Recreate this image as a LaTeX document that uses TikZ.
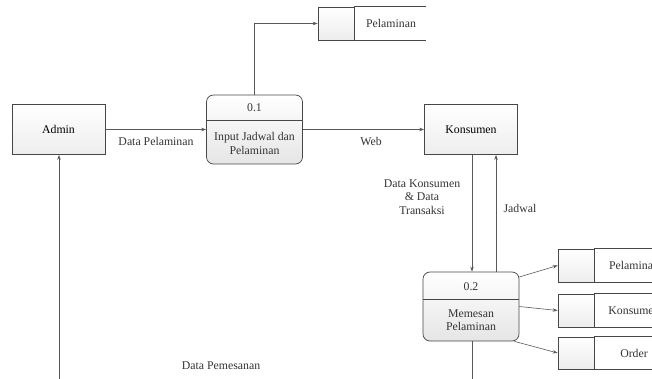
\documentclass[tikz,border=0pt]{standalone}
\usepackage{fontspec}
\setmainfont{Liberation Serif}
\usetikzlibrary{arrows.meta,calc}
\begin{document}
\begin{tikzpicture}[x=1pt,y=-1pt,
  font=\fontsize{11.8}{13.5}\selectfont,
  boxdraw/.style={draw=black!72,line width=0.7pt},
  entity/.style={boxdraw,rectangle,top color=white,bottom color=black!7,minimum width=93pt,minimum height=50pt,inner sep=0pt},
  proc/.style={boxdraw,rectangle,rounded corners=7pt,top color=white,bottom color=black!10,minimum width=96pt,minimum height=69pt,inner sep=0pt},
  storebox/.style={boxdraw,rectangle,top color=white,bottom color=black!7,minimum width=36pt,minimum height=33pt,inner sep=0pt},
  flow/.style={draw=black!65,line width=0.6pt,-{Stealth[length=5pt,width=3.5pt]}},
  plain/.style={draw=black!65,line width=0.6pt},
  lbl/.style={align=center,inner sep=0pt,text=black!80}
]
\useasboundingbox (0,0) rectangle (652,379);
\clip (0,0) rectangle (652,379);
% entities
\node[entity] (admin) at (58.5,129.5) {Admin};
\node[entity] (kons) at (471,129.5) {Konsumen};
% process 0.1
\node[proc] (p1) at (254.5,129.5) {};
\draw[boxdraw] ($(p1.north west)+(0,25.5)$) -- ($(p1.north east)+(0,25.5)$);
\node[lbl] (p1a) at (254.5,108) {0.1};
\node[lbl] (p1b) at (254.5,143.5) {Input Jadwal dan\\Pelaminan};
% process 0.2
\node[proc] (p2) at (471,306.5) {};
\draw[boxdraw] ($(p2.north west)+(0,28)$) -- ($(p2.north east)+(0,28)$);
\node[lbl] (p2a) at (471,287) {0.2};
\node[lbl] (p2b) at (471,320) {Memesan\\Pelaminan};
% stores
\node[storebox] (st1) at (336,23.5) {};
\draw[boxdraw] (st1.north east) -- ++(72,0);
\draw[boxdraw] (st1.south east) -- ++(72,0);
\node[lbl] (st1t) at (391,23.5) {Pelaminan};
\node[storebox] (st2) at (576,265.5) {};
\draw[boxdraw] (st2.north east) -- ++(100,0);
\draw[boxdraw] (st2.south east) -- ++(100,0);
\node[lbl] (st2t) at (634,265.5) {Pelaminan};
\node[storebox] (st3) at (576,310.5) {};
\draw[boxdraw] (st3.north east) -- ++(100,0);
\draw[boxdraw] (st3.south east) -- ++(100,0);
\node[lbl] (st3t) at (634,310.5) {Konsumen};
\node[storebox,minimum height=32pt] (st4) at (576,353) {};
\draw[boxdraw] (st4.north east) -- ++(100,0);
\draw[boxdraw] (st4.south east) -- ++(100,0);
\node[lbl] (st4t) at (634,353) {Order};
% free ends
\coordinate (c1) at (472,392);
\coordinate (c2) at (59,392);
% flows
\draw[flow] (admin) -- (p1);
\draw[flow] (p1.north) |- (st1.west);
\draw[flow] (p1) -- (kons);
\draw[flow] ([xshift=1]kons.south) -- ([xshift=1]kons.south |- p2.north);
\draw[flow] ([xshift=25]p2.north) -- ([xshift=25]p2.north |- kons.south);
\draw[flow] ([yshift=29.5]p2.east) -- (st2.west);
\draw[flow] (p2.east) -- (st3.west);
\draw[flow] ([xshift=-5]p2.south east) -- (st4.west);
\draw[plain] ([xshift=1]p2.south) -- (c1);
\draw[flow] (c2) -- (admin.south -| c2);
% labels
\node[lbl] (l1) at (156,141) {Data Pelaminan};
\node[lbl] (l2) at (371,141) {Web};
\node[lbl] (l3) at (422,197) {Data Konsumen\\\& Data\\Transaksi};
\node[lbl] (l4) at (520,208) {Jadwal};
\node[lbl] (l5) at (221,366) {Data Pemesanan};
\end{tikzpicture}
\end{document}
